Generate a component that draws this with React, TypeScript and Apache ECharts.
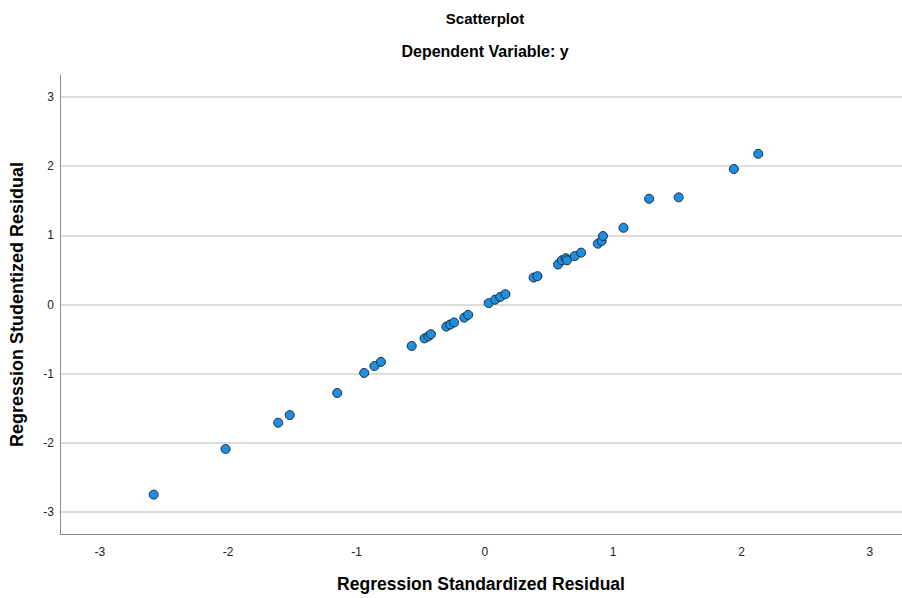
import React, { useEffect, useRef } from "react";
import * as echarts from "echarts";

const standardizedResidual = [
  -2.58, -2.02, -1.61, -1.52, -1.15, -0.94, -0.86, -0.81, -0.57, -0.47, -0.44, -0.42,
  -0.3, -0.27, -0.24, -0.16, -0.13, 0.03, 0.08, 0.12, 0.16, 0.38, 0.41, 0.57, 0.6,
  0.63, 0.64, 0.7, 0.75, 0.88, 0.91, 0.92, 1.08, 1.28, 1.51, 1.94, 2.13,
];
const studentizedResidual = [
  -2.75, -2.09, -1.71, -1.6, -1.28, -0.99, -0.89, -0.83, -0.6, -0.49, -0.46, -0.43,
  -0.32, -0.29, -0.26, -0.19, -0.15, 0.02, 0.07, 0.11, 0.15, 0.39, 0.41, 0.58, 0.64,
  0.67, 0.64, 0.7, 0.75, 0.88, 0.92, 0.99, 1.11, 1.53, 1.55, 1.96, 2.18,
];

const titleText = "Scatterplot";
const subtitleText = "Dependent Variable: y";
const xAxisName = "Regression Standardized Residual";
const yAxisName = "Regression Studentized Residual";

const FONT = "'Liberation Sans', Arial, sans-serif";

export default function App() {
  const ref = useRef<HTMLDivElement>(null);

  useEffect(() => {
    document.body.style.margin = "0";
    if (!ref.current) return;
    const chart = echarts.init(ref.current, undefined, { renderer: "svg" });
    const points = standardizedResidual.map((x, i) => [x, studentizedResidual[i]]);
    chart.setOption({
      animation: false,
      backgroundColor: "#ffffff",
      textStyle: { fontFamily: FONT },
      graphic: [
        {
          type: "text",
          x: 485,
          y: 18,
          style: {
            text: titleText,
            fontFamily: FONT,
            fontSize: 15,
            fontWeight: "bold",
            fill: "#000",
            textAlign: "center",
            textVerticalAlign: "middle",
          },
        },
        {
          type: "text",
          x: 485,
          y: 51,
          style: {
            text: subtitleText,
            fontFamily: FONT,
            fontSize: 16,
            fontWeight: "bold",
            fill: "#000",
            textAlign: "center",
            textVerticalAlign: "middle",
          },
        },
      ],
      grid: { left: 60, top: 75, right: 0, bottom: 63, containLabel: false },
      xAxis: {
        type: "value",
        min: -3.31,
        max: 3.25,
        name: xAxisName,
        nameLocation: "middle",
        nameGap: 41,
        nameTextStyle: { fontFamily: FONT, fontSize: 17.5, fontWeight: "bold", color: "#000" },
        axisLine: { show: true, onZero: false, lineStyle: { color: "#8a8a8a", width: 1 } },
        axisTick: { show: false },
        splitLine: { show: false },
        axisLabel: {
          showMinLabel: false,
          showMaxLabel: false,
          margin: 12,
          fontFamily: FONT,
          fontSize: 12,
          color: "#222",
        },
      },
      yAxis: {
        type: "value",
        min: -3.32,
        max: 3.32,
        name: yAxisName,
        nameLocation: "middle",
        nameGap: 34,
        nameRotate: 90,
        nameTextStyle: { fontFamily: FONT, fontSize: 18, fontWeight: "bold", color: "#000" },
        axisLine: { show: true, onZero: false, lineStyle: { color: "#8a8a8a", width: 1 } },
        axisTick: { show: false },
        splitLine: {
          show: true,
          showMinLine: false,
          showMaxLine: false,
          lineStyle: { color: "#d2d2d2", width: 1.5 },
        },
        axisLabel: {
          showMinLabel: false,
          showMaxLabel: false,
          margin: 6,
          fontFamily: FONT,
          fontSize: 12,
          color: "#222",
        },
      },
      series: [
        {
          type: "scatter",
          data: points,
          symbol: "circle",
          symbolSize: 9,
          itemStyle: { color: "#1e8ee0", borderColor: "#1c2a38", borderWidth: 1, opacity: 1 },
        },
      ],
    });
    return () => chart.dispose();
  }, []);

  return <div ref={ref} style={{ width: 902, height: 598 }} />;
}
